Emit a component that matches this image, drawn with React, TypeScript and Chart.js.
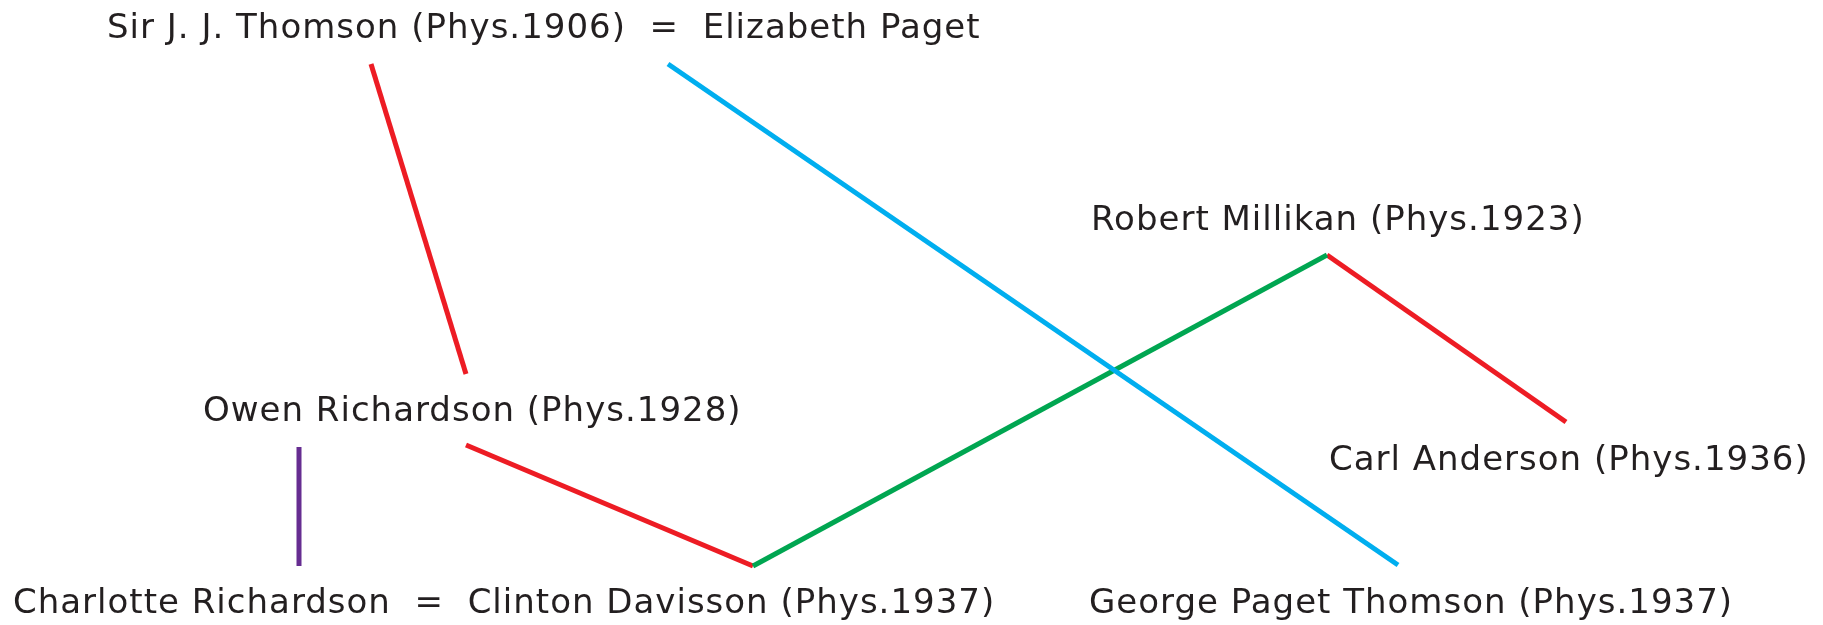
import React, { useEffect, useRef } from "react";
import { Chart, registerables } from "chart.js";

Chart.register(...registerables);

// Connection segments (diagram coordinates, x right, y down)
const redThomsonOwenX = [371, 466];
const redThomsonOwenY = [64, 374];
const blueThomsonGeorgeX = [668, 1398];
const blueThomsonGeorgeY = [64, 565];
const greenDavissonMillikanX = [753, 1327];
const greenDavissonMillikanY = [566, 255];
const redMillikanAndersonX = [1327, 1566];
const redMillikanAndersonY = [255, 422];
const redOwenDavissonX = [466, 753];
const redOwenDavissonY = [445, 566];
const purpleOwenCharlotteX = [299, 299];
const purpleOwenCharlotteY = [447, 566];

// Name labels
const labelTexts = [
  "Sir J. J. Thomson (Phys.1906)  =  Elizabeth Paget",
  "Robert Millikan (Phys.1923)",
  "Owen Richardson (Phys.1928)",
  "Carl Anderson (Phys.1936)",
  "Charlotte Richardson  =  Clinton Davisson (Phys.1937)",
  "George Paget Thomson (Phys.1937)",
];
const labelX = [107, 1091, 203, 1329, 13, 1089];
const labelY = [38, 230, 421, 470, 613, 613];

const RED = "#ED1C24";
const BLUE = "#00AEEF";
const GREEN = "#00A651";
const PURPLE = "#662D91";

function seg(xs: number[], ys: number[], color: string) {
  return {
    data: xs.map((x, i) => ({ x, y: ys[i] })),
    borderColor: color,
    backgroundColor: color,
    borderWidth: 5,
    pointRadius: 0,
    showLine: true,
    borderCapStyle: "butt" as const,
  };
}

const labelPlugin = {
  id: "nameLabels",
  afterDraw(chart: any) {
    const ctx = chart.ctx;
    const xs = chart.scales.x;
    const ys = chart.scales.y;
    ctx.save();
    ctx.fillStyle = "#231F20";
    ctx.font = "34px 'DejaVu Sans'";
    try {
      ctx.letterSpacing = "1px";
    } catch (e) {}
    ctx.textBaseline = "alphabetic";
    ctx.textAlign = "left";
    labelTexts.forEach((t, i) => {
      ctx.fillText(t, xs.getPixelForValue(labelX[i]), ys.getPixelForValue(labelY[i]));
    });
    ctx.restore();
  },
};

export default function App() {
  const ref = useRef<HTMLCanvasElement>(null);
  useEffect(() => {
    document.body.style.margin = "0";
    const chart = new Chart(ref.current!, {
      type: "scatter",
      data: {
        datasets: [
          seg(redThomsonOwenX, redThomsonOwenY, RED),
          seg(blueThomsonGeorgeX, blueThomsonGeorgeY, BLUE),
          seg(greenDavissonMillikanX, greenDavissonMillikanY, GREEN),
          seg(redMillikanAndersonX, redMillikanAndersonY, RED),
          seg(redOwenDavissonX, redOwenDavissonY, RED),
          seg(purpleOwenCharlotteX, purpleOwenCharlotteY, PURPLE),
        ],
      },
      options: {
        animation: false,
        responsive: false,
        maintainAspectRatio: false,
        layout: { padding: 0 },
        plugins: { legend: { display: false }, tooltip: { enabled: false } },
        scales: {
          x: { type: "linear", min: 0, max: 1823, display: false },
          y: { type: "linear", min: 0, max: 625, reverse: true, display: false },
        },
      },
      plugins: [labelPlugin],
    });
    return () => chart.destroy();
  }, []);
  return (
    <div style={{ width: 1823, height: 625, background: "#fff" }}>
      <canvas ref={ref} width={1823} height={625} style={{ display: "block" }} />
    </div>
  );
}
